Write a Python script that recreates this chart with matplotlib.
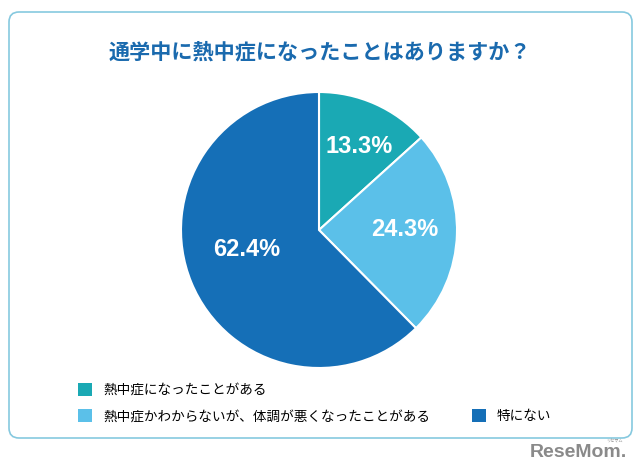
import numpy as np
import matplotlib.pyplot as plt
from matplotlib.patches import FancyBboxPatch, Patch

plt.rcParams['font.family'] = ['Noto Sans CJK JP', 'DejaVu Sans']

title = '通学中に熱中症になったことはありますか？'
labels = ['熱中症になったことがある',
          '熱中症かわからないが、体調が悪くなったことがある',
          '特にない']
values = [13.3, 24.3, 62.4]
colors = ['#1aa9b4', '#5bc0e9', '#156fb7']

fig = plt.figure(figsize=(6.4, 4.73), dpi=100)

# background axes in pixel coords for the frame and title
bg = fig.add_axes([0, 0, 1, 1])
bg.set_xlim(0, 640)
bg.set_ylim(473, 0)
bg.axis('off')
frame = FancyBboxPatch((9, 12), 623, 426, boxstyle='round,pad=0,rounding_size=10',
                       facecolor='white', edgecolor='#86c9df', linewidth=1.2)
bg.add_patch(frame)
bg.text(320, 52, title, ha='center', va='center', fontsize=15.2,
        fontweight='bold', color='#1a6aae')
bg.text(627, 452, 'ReseMom.', ha='right', va='center', fontsize=14,
        fontweight='bold', color='#8a8a8a', family='Liberation Sans')
bg.text(614, 441, 'リセマム', ha='center', va='center', fontsize=3,
        color='#8a8a8a')

# pie axes
ax = fig.add_axes([181 / 640, 1 - 368 / 473, 276 / 640, 276 / 473])
wedges, texts, autotexts = ax.pie(
    values, colors=colors, startangle=90, counterclock=False,
    autopct='%.1f%%', pctdistance=0.63,
    wedgeprops=dict(edgecolor='white', linewidth=1.5),
    textprops=dict(color='white', fontsize=17, fontweight='bold',
                   family='Liberation Sans'))
ax.set_xlim(-1, 1)
ax.set_ylim(-1, 1)
ax.set_aspect('equal')

# small nudges of the percent labels (distance, angle offset in degrees)
label_r = [0.67, 0.62, 0.54]
label_da = [-2, 2, -7]
for w, t, r, da in zip(wedges, autotexts, label_r, label_da):
    a = np.deg2rad((w.theta1 + w.theta2) / 2 + da)
    t.set_position((r * np.cos(a), r * np.sin(a)))

# legend: item 3 in second column, second row
blank = Patch(facecolor='none', edgecolor='none')
handles = [wedges[0], wedges[1], blank, wedges[2]]
names = [labels[0], labels[1], '', labels[2]]
leg = fig.legend(handles, names, ncol=2, loc='upper left',
                 bbox_to_anchor=(78 / 640, 1 - 383 / 473), frameon=False,
                 fontsize=9.8, handlelength=1.03, handleheight=1.03,
                 handletextpad=0.8, labelspacing=0.9, columnspacing=3.1,
                 borderaxespad=0, borderpad=0)
for h in leg.legend_handles:
    h.set_edgecolor('none')

fig.savefig('out.png', dpi=100)
